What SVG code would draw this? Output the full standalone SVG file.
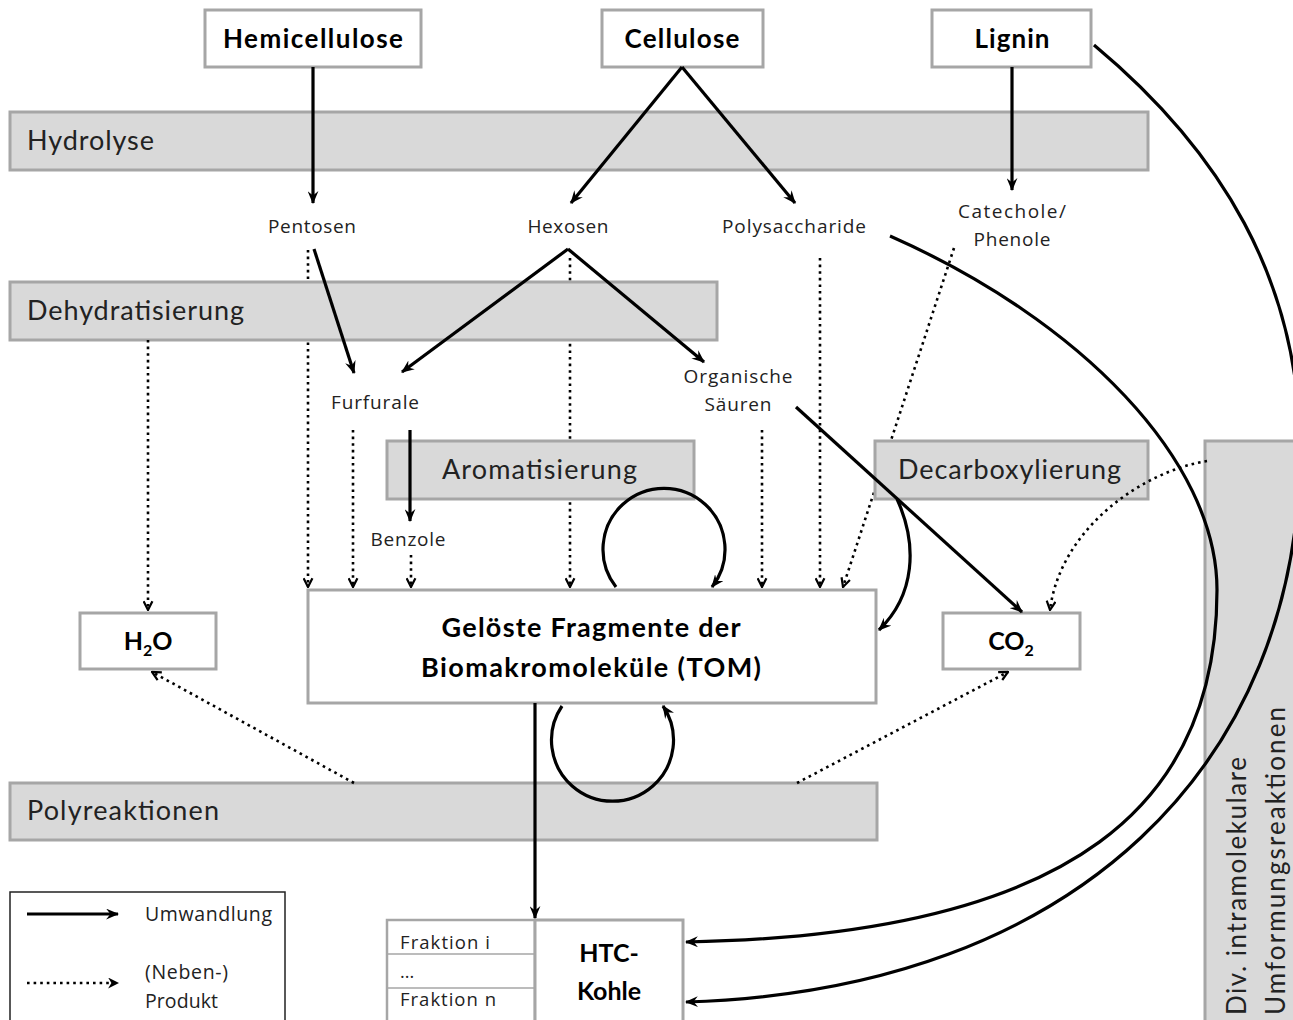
<svg xmlns="http://www.w3.org/2000/svg" width="1293" height="1020" viewBox="0 0 1293 1020">
<style>
.box{fill:#fff;stroke:#a6a6a6;stroke-width:3}
.bar{fill:#d9d9d9;stroke:#a6a6a6;stroke-width:3}
.b{font-family:Lato,"Liberation Sans",sans-serif;font-weight:bold;fill:#000}
.r{font-family:Lato,"Liberation Sans",sans-serif;fill:#222}
.s{font-family:"Open Sans","Liberation Sans",sans-serif;fill:#222}
.sol{fill:none;stroke:#000;stroke-width:3.2;marker-end:url(#ah)}
.dot{fill:none;stroke:#000;stroke-width:2.6;stroke-dasharray:2.6 4;marker-end:url(#ahd)}
</style>
<defs>
<marker id="ah" viewBox="0 0 12 10" refX="11" refY="5" markerWidth="13" markerHeight="11" markerUnits="userSpaceOnUse" orient="auto"><path d="M0,0 L12,5 L0,10 L4,5 Z" fill="#000"/></marker>
<marker id="ahd" viewBox="0 0 10 10" refX="9" refY="5" markerWidth="11" markerHeight="11" markerUnits="userSpaceOnUse" orient="auto"><path d="M1,1 L9,5 L1,9" fill="none" stroke="#000" stroke-width="2" stroke-dasharray="none"/></marker>
<marker id="ahf" viewBox="0 0 10 10" refX="9" refY="5" markerWidth="11" markerHeight="11" markerUnits="userSpaceOnUse" orient="auto"><path d="M0,0 L10,5 L0,10 L3,5 Z" fill="#000"/></marker>
</defs>
<rect width="1293" height="1020" fill="#fff"/>

<g id="connectors-under">
<path class="dot" d="M308,250 L308,587"/>
<path class="dot" d="M570,258 L570,587"/>
<path class="dot" d="M954,248 L843,587"/>
</g>

<g id="hydrolyse"><rect class="bar" x="10" y="112" width="1138" height="58"/><text class="r" x="27" y="150" font-size="27" textLength="127">Hydrolyse</text></g>
<g id="dehydratisierung"><rect class="bar" x="10" y="282" width="707" height="58"/><text class="r" x="27" y="320" font-size="27" textLength="217">Dehydratisierung</text></g>
<g id="aromatisierung"><rect class="bar" x="387" y="441" width="307" height="58"/><text class="r" x="442" y="479" font-size="27" textLength="195">Aromatisierung</text></g>
<g id="decarboxylierung"><rect class="bar" x="875" y="441" width="273" height="58"/><text class="r" x="898" y="479" font-size="27" textLength="223">Decarboxylierung</text></g>
<g id="polyreaktionen"><rect class="bar" x="10" y="783" width="867" height="57"/><text class="r" x="27" y="820" font-size="27" textLength="192">Polyreaktionen</text></g>
<g id="umformung"><rect class="bar" x="1205" y="441" width="100" height="600"/>
<text class="r" transform="translate(1246,1015) rotate(-90)" font-size="26" textLength="258">Div. intramolekulare</text>
<text class="r" transform="translate(1285,1015) rotate(-90)" font-size="26" textLength="308">Umformungsreaktionen</text></g>

<g id="hemicellulose"><rect class="box" x="205" y="10" width="216" height="57"/><text class="b" x="313" y="48" font-size="26" text-anchor="middle" textLength="180">Hemicellulose</text></g>
<g id="cellulose"><rect class="box" x="602" y="10" width="161" height="57"/><text class="b" x="682" y="48" font-size="26" text-anchor="middle" textLength="115">Cellulose</text></g>
<g id="lignin"><rect class="box" x="932" y="10" width="159" height="57"/><text class="b" x="1012" y="48" font-size="26" text-anchor="middle" textLength="75">Lignin</text></g>

<g id="pentosen"><text class="s" x="312" y="233" font-size="19" text-anchor="middle" textLength="88">Pentosen</text></g>
<g id="hexosen"><text class="s" x="568" y="233" font-size="19" text-anchor="middle" textLength="81">Hexosen</text></g>
<g id="polysaccharide"><text class="s" x="794" y="233" font-size="19" text-anchor="middle" textLength="144">Polysaccharide</text></g>
<g id="catechole"><text class="s" x="1012" y="218" font-size="19" text-anchor="middle" textLength="108">Catechole/</text><text class="s" x="1012" y="246" font-size="19" text-anchor="middle" textLength="77">Phenole</text></g>
<g id="furfurale"><text class="s" x="375" y="409" font-size="19" text-anchor="middle" textLength="88">Furfurale</text></g>
<g id="saeuren"><text class="s" x="738" y="383" font-size="19" text-anchor="middle" textLength="109">Organische</text><text class="s" x="738" y="411" font-size="19" text-anchor="middle" textLength="67">Säuren</text></g>
<g id="benzole"><text class="s" x="408" y="546" font-size="19" text-anchor="middle" textLength="75">Benzole</text></g>

<g id="tom"><rect class="box" x="308" y="590" width="568" height="113"/>
<text class="b" x="591" y="637" font-size="27" text-anchor="middle" textLength="299">Gelöste Fragmente der</text>
<text class="b" x="591" y="677" font-size="27" text-anchor="middle" textLength="340">Biomakromoleküle (TOM)</text></g>
<g id="h2o"><rect class="box" x="80" y="613" width="136" height="56"/><text class="b" x="148" y="650" font-size="25" text-anchor="middle">H<tspan font-size="16" dy="6">2</tspan><tspan dy="-6">O</tspan></text></g>
<g id="co2"><rect class="box" x="943" y="613" width="137" height="56"/><text class="b" x="1011" y="650" font-size="25" text-anchor="middle">CO<tspan font-size="16" dy="6">2</tspan></text></g>

<g id="htc-kohle">
<rect x="387" y="920" width="148" height="110" fill="#fff" stroke="#a6a6a6" stroke-width="2.5"/>
<line x1="387" y1="954" x2="535" y2="954" stroke="#a6a6a6" stroke-width="1.5"/>
<line x1="387" y1="988" x2="535" y2="988" stroke="#a6a6a6" stroke-width="1.5"/>
<text class="s" x="400" y="949" font-size="18.5" textLength="90">Fraktion i</text>
<text class="s" x="400" y="978" font-size="18">...</text>
<text class="s" x="400" y="1006" font-size="18.5" textLength="96">Fraktion n</text>
<rect class="box" x="535" y="920" width="148" height="110"/>
<text class="b" x="609" y="962" font-size="25" text-anchor="middle">HTC-</text>
<text class="b" x="609" y="1000" font-size="25" text-anchor="middle">Kohle</text>
</g>

<g id="legend">
<rect x="10" y="892" width="275" height="140" fill="#fff" stroke="#222" stroke-width="1.5"/>
<path class="sol" d="M27,914 L118,914"/>
<path class="dot" d="M27,983 L118,983" style="marker-end:url(#ahf)"/>
<text class="s" x="145" y="921" font-size="19.5" textLength="127">Umwandlung</text>
<text class="s" x="145" y="979" font-size="19.5" textLength="83">(Neben-)</text>
<text class="s" x="145" y="1008" font-size="19.5" textLength="73">Produkt</text>
</g>

<g id="connectors">
<path class="sol" d="M313,67 L313,203"/>
<path class="sol" d="M682,67 L571,203"/>
<path class="sol" d="M682,67 L795,203"/>
<path class="sol" d="M1012,67 L1012,190"/>
<path class="sol" d="M314,249 L354,373"/>
<path class="sol" d="M568,249 L402,372"/>
<path class="sol" d="M568,249 L704,362"/>
<path class="sol" d="M410,430 L410,521"/>
<path class="sol" d="M796,407 L1022,612"/>
<path class="sol" d="M897,499 C918,545 915,595 879,630"/>
<path class="sol" d="M616,587 A61,61 0 1 1 712,587"/>
<path class="sol" d="M562,706 A61,61 0 1 0 663,706"/>
<path class="sol" d="M535,703 L535,918"/>
<path class="sol" d="M890,236 C1080,320 1217,460 1217,590 C1217,800 1080,935 686,942"/>
<path class="sol" d="M1094,45 C1220,150 1300,280 1300,450 C1300,760 1080,990 686,1002"/>
<path class="dot" d="M353,430 L353,587"/>
<path class="dot" d="M411,555 L411,587"/>
<path class="dot" d="M762,430 L762,587"/>
<path class="dot" d="M820,258 L820,587"/>
<path class="dot" d="M148,340 L148,610"/>
<path class="dot" d="M354,783 L152,672"/>
<path class="dot" d="M797,783 L1008,672"/>
<path class="dot" d="M1207,461 C1140,472 1060,530 1050,610"/>
</g>
</svg>
